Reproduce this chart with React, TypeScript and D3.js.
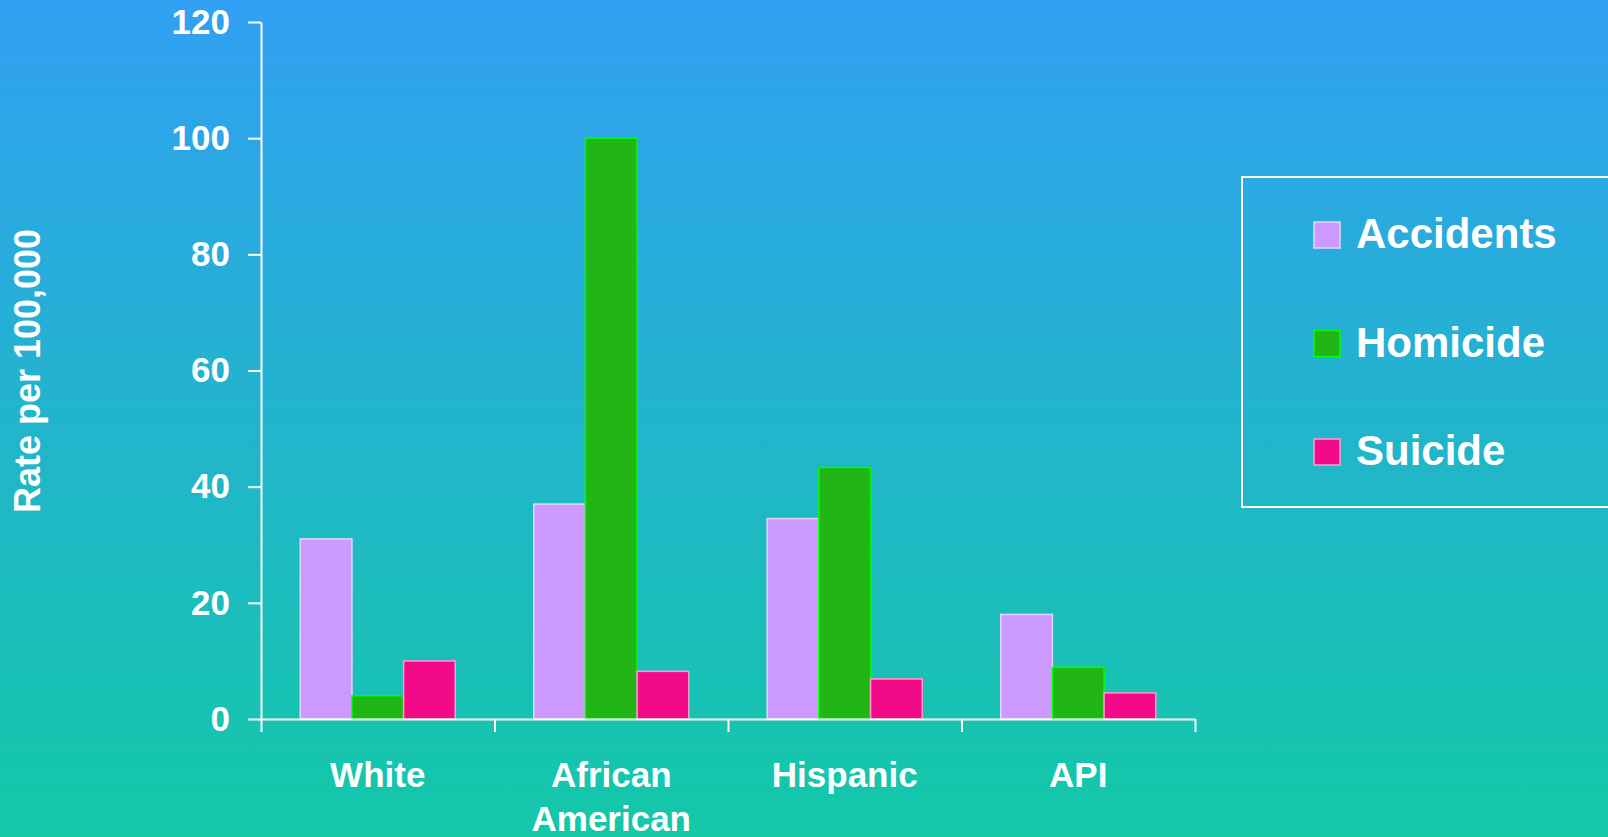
import { useEffect, useRef } from "react";
import * as d3 from "d3";

// ----- Data -------------------------------------------------------------
const categories = ["White", "African American", "Hispanic", "API"];
const seriesNames = ["Accidents", "Homicide", "Suicide"];
const accidents = [31, 37, 34.5, 18];
const homicide = [4, 100, 43.3, 8.9];
const suicide = [10, 8.2, 6.9, 4.5];
const yTicks = [0, 20, 40, 60, 80, 100, 120];

const fills = ["#cc99ff", "#21b616", "#f30a88"];
const strokes = ["#e6d6ff", "#00ff00", "#ff9ccf"];

const W = 1608;
const H = 837;
const FONT = "'Liberation Sans', Arial, sans-serif";

const App = () => {
  const svgRef = useRef<SVGSVGElement | null>(null);

  useEffect(() => {
    document.body.style.margin = "0";
    const svg = d3.select(svgRef.current);
    svg.selectAll("*").remove();

    // background gradient
    const defs = svg.append("defs");
    const grad = defs
      .append("linearGradient")
      .attr("id", "bg")
      .attr("x1", 0)
      .attr("y1", 0)
      .attr("x2", 0)
      .attr("y2", 1);
    grad.append("stop").attr("offset", "0%").attr("stop-color", "#31a0f3");
    grad.append("stop").attr("offset", "100%").attr("stop-color", "#13c8a7");
    svg.append("rect").attr("width", W).attr("height", H).attr("fill", "url(#bg)");

    const left = 261;
    const right = 1195;
    const top = 22;
    const bottom = 719;

    const x = d3.scaleBand<string>().domain(categories).range([left, right]);
    const xs = d3
      .scaleBand<string>()
      .domain(seriesNames)
      .range([0, x.bandwidth()])
      .paddingOuter(0.76);
    const y = d3.scaleLinear().domain([0, 120]).range([bottom, top]);

    const values = [accidents, homicide, suicide];

    // ----- Bars ---------------------------------------------------------
    seriesNames.forEach((s, si) => {
      svg
        .append("g")
        .selectAll("rect")
        .data(values[si])
        .join("rect")
        .attr("x", (_d, i) => (x(categories[i]) as number) + (xs(s) as number))
        .attr("y", (d) => y(d))
        .attr("width", xs.bandwidth())
        .attr("height", (d) => bottom - y(d))
        .attr("fill", fills[si])
        .attr("stroke", strokes[si])
        .attr("stroke-width", 1.5);
    });

    // ----- Axes ---------------------------------------------------------
    const yAxis = svg
      .append("g")
      .attr("transform", `translate(${left},0)`)
      .call(
        d3
          .axisLeft(y)
          .tickValues(yTicks)
          .tickSize(13)
          .tickSizeOuter(0)
          .tickPadding(18),
      );
    yAxis.selectAll("line, path").attr("stroke", "#fff").attr("stroke-width", 2);
    yAxis
      .selectAll("text")
      .attr("fill", "#fff")
      .attr("font-family", FONT)
      .attr("font-weight", "bold")
      .attr("font-size", 35);

    const xEdges = d3.scaleLinear().domain([0, categories.length]).range([left, right]);
    const xAxis = svg
      .append("g")
      .attr("transform", `translate(0,${bottom})`)
      .call(
        d3
          .axisBottom(xEdges)
          .ticks(categories.length)
          .tickSize(13)
          .tickSizeOuter(0)
          .tickFormat(() => ""),
      );
    xAxis.selectAll("line, path").attr("stroke", "#fff").attr("stroke-width", 2);

    // category labels (wrapped)
    categories.forEach((c) => {
      const words = c.split(" ");
      const t = svg
        .append("text")
        .attr("x", (x(c) as number) + x.bandwidth() / 2)
        .attr("y", 787)
        .attr("text-anchor", "middle")
        .attr("fill", "#fff")
        .attr("font-family", FONT)
        .attr("font-weight", "bold")
        .attr("font-size", 35);
      words.forEach((w, i) => {
        t.append("tspan")
          .attr("x", (x(c) as number) + x.bandwidth() / 2)
          .attr("dy", i === 0 ? 0 : 44)
          .text(w);
      });
    });

    // y title
    svg
      .append("text")
      .attr("transform", "translate(40,371) rotate(-90)")
      .attr("text-anchor", "middle")
      .attr("fill", "#fff")
      .attr("font-family", FONT)
      .attr("font-weight", "bold")
      .attr("font-size", 36)
      .text("Rate per 100,000");

    // ----- Legend -------------------------------------------------------
    svg
      .append("rect")
      .attr("x", 1242)
      .attr("y", 177)
      .attr("width", 400)
      .attr("height", 330)
      .attr("fill", "none")
      .attr("stroke", "#fff")
      .attr("stroke-width", 2);

    const legend = svg.append("g").attr("transform", "translate(1314,222)");
    seriesNames.forEach((s, i) => {
      const g = legend.append("g").attr("transform", `translate(0,${i * 108.5})`);
      g.append("rect")
        .attr("width", 26)
        .attr("height", 26)
        .attr("fill", fills[i])
        .attr("stroke", strokes[i])
        .attr("stroke-width", 1.5);
      g.append("text")
        .attr("x", 42)
        .attr("y", 26)
        .attr("fill", "#fff")
        .attr("font-family", FONT)
        .attr("font-weight", "bold")
        .attr("font-size", 42)
        .text(s);
    });
  }, []);

  return <svg ref={svgRef} width={W} height={H} style={{ display: "block" }} />;
};

export default App;
